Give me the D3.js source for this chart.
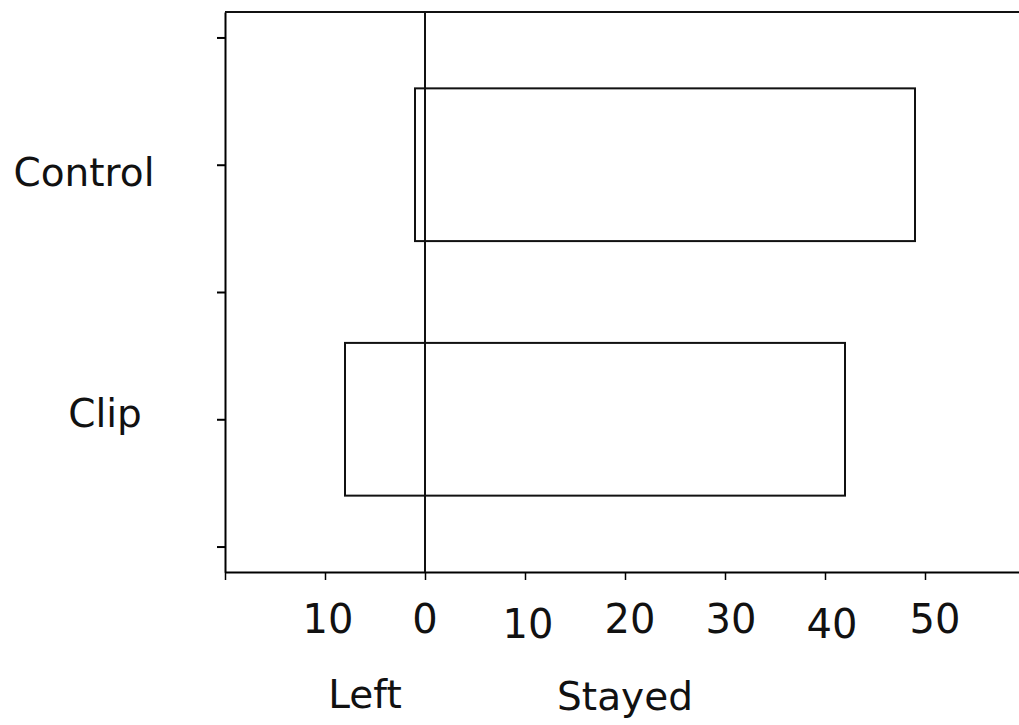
<!DOCTYPE html>
<html>
<head>
<meta charset="utf-8">
<script src="https://cdn.jsdelivr.net/npm/d3@7"></script>
<style>
    body { margin: 0; background: #fff; }
    text { font-family: "DejaVu Sans", sans-serif; fill: #111; }
</style>
</head>
<body>
<svg id="chart"></svg>
<script>
// data
const categories = ["Control", "Clip"];
const leftCounts = [1, 8];
const stayedCounts = [49, 42];
const xTickValues = [-20, -10, 0, 10, 20, 30, 40, 50];
const xTickLabels = ["", "10", "0", "10", "20", "30", "40", "50"];
const sideLabels = ["Left", "Stayed"];

// small hand nudges so the labels sit where the reference has them
const xLabelNudge = [[0, 0], [3, 0], [0, 0], [3, 5], [5, 0], [6, 0], [7, 5], [10, 0]];
const catNudge = [[-141, 21], [-120, 8]];

const width = 1019, height = 725;
const svg = d3.select("#chart")
    .attr("width", width)
    .attr("height", height);

const x = d3.scaleLinear()
    .domain([-20, 59.4])
    .range([225, 1019]);

// category i sits at i + 0.5, boundaries on whole numbers
const y = d3.scaleLinear()
    .domain([-0.1, 2.1])
    .range([12, 572]);

const barHalf = 0.3;

// left axis (frame side) with small ticks
svg.append("g")
    .attr("transform", `translate(${x(-20)},0)`)
    .call(d3.axisLeft(y).tickValues([0, 0.5, 1, 1.5, 2]).tickFormat("").tickSize(8).tickSizeOuter(0))
    .call(g => g.select(".domain").attr("stroke-width", 2))
    .call(g => g.selectAll(".tick line").attr("stroke-width", 2));

// top frame line
svg.append("line")
    .attr("x1", x(-20)).attr("x2", width)
    .attr("y1", y(-0.1)).attr("y2", y(-0.1))
    .attr("stroke", "#111").attr("stroke-width", 2);

// bottom axis
svg.append("g")
    .attr("transform", `translate(0,${y(2.1)})`)
    .call(d3.axisBottom(x).tickValues(xTickValues).tickFormat("").tickSize(8).tickSizeOuter(0))
    .call(g => g.select(".domain").attr("stroke-width", 2))
    .call(g => g.selectAll(".tick line").attr("stroke-width", 1.5));

svg.append("g").selectAll("text")
    .data(xTickValues)
    .enter().append("text")
    .attr("x", (d, i) => x(d) + xLabelNudge[i][0])
    .attr("y", (d, i) => 633 + xLabelNudge[i][1])
    .attr("text-anchor", "middle")
    .attr("font-size", "40px")
    .text((d, i) => xTickLabels[i]);

// zero line
svg.append("line")
    .attr("x1", x(0)).attr("x2", x(0))
    .attr("y1", y(-0.1)).attr("y2", y(2.1))
    .attr("stroke", "#111").attr("stroke-width", 2);

// bars: left part and stayed part
const rows = categories.map((c, i) => ({ cat: c, left: leftCounts[i], stayed: stayedCounts[i], pos: i + 0.5 }));

const bars = svg.append("g").selectAll("g")
    .data(rows)
    .enter().append("g");

bars.append("rect")
    .attr("x", d => x(-d.left))
    .attr("width", d => x(0) - x(-d.left))
    .attr("y", d => y(d.pos - barHalf))
    .attr("height", d => y(d.pos + barHalf) - y(d.pos - barHalf))
    .attr("fill", "none").attr("stroke", "#111").attr("stroke-width", 2);

bars.append("rect")
    .attr("x", x(0))
    .attr("width", d => x(d.stayed) - x(0))
    .attr("y", d => y(d.pos - barHalf))
    .attr("height", d => y(d.pos + barHalf) - y(d.pos - barHalf))
    .attr("fill", "none").attr("stroke", "#111").attr("stroke-width", 2);

// category labels
svg.append("g").selectAll("text")
    .data(rows)
    .enter().append("text")
    .attr("x", (d, i) => x(-20) + catNudge[i][0])
    .attr("y", (d, i) => y(d.pos) + catNudge[i][1])
    .attr("text-anchor", "middle")
    .attr("font-size", "39px")
    .text(d => d.cat);

// Left / Stayed captions under the axis
svg.append("text")
    .attr("x", x(-6)).attr("y", 708)
    .attr("text-anchor", "middle")
    .attr("font-size", "39px")
    .text(sideLabels[0]);

svg.append("text")
    .attr("x", x(20)).attr("y", 710)
    .attr("text-anchor", "middle")
    .attr("font-size", "39px")
    .text(sideLabels[1]);
</script>
</body>
</html>
